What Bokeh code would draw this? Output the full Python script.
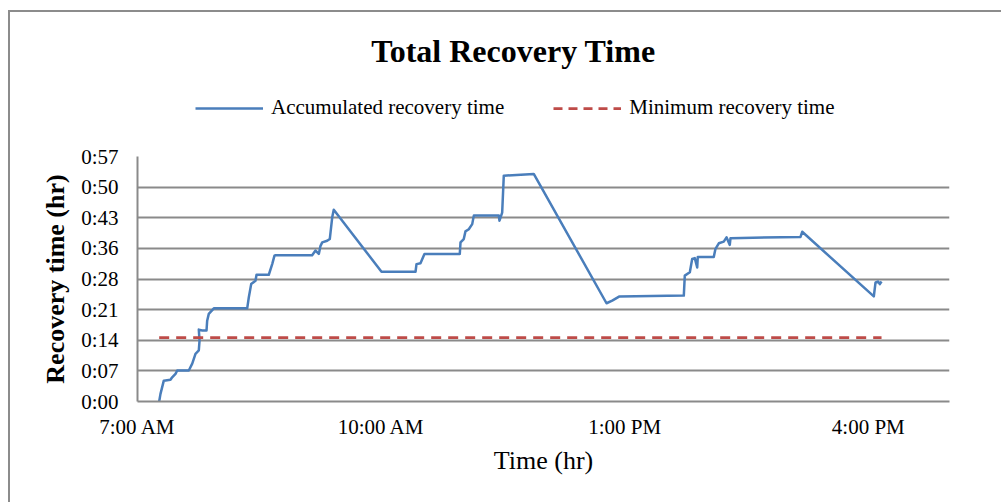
from bokeh.plotting import figure
from bokeh.models import Range1d, FixedTicker, Legend, LegendItem, Spacer, Label
from bokeh.layouts import row, column
from bokeh.embed import file_html
from bokeh.resources import INLINE

# ---- data (time in hours of day, recovery time in minutes) ----
time_hr = [7.267, 7.283, 7.324, 7.406, 7.427, 7.468, 7.489, 7.632, 7.674, 7.714,
           7.755, 7.764, 7.755, 7.797, 7.850, 7.858, 7.878, 7.940, 8.351, 8.371,
           8.400, 8.453, 8.466, 8.617, 8.659, 8.687, 8.700, 9.151, 9.192, 9.233,
           9.254, 9.275, 9.336, 9.368, 9.398, 9.417, 10.005, 10.424, 10.436, 10.485,
           10.534, 10.969, 10.978, 11.018, 11.039, 11.080, 11.122, 11.142, 11.450, 11.458,
           11.491, 11.511, 11.880, 12.776, 12.846, 12.936, 13.728, 13.740, 13.802, 13.831,
           13.863, 13.893, 13.900, 14.097, 14.118, 14.159, 14.220, 14.254, 14.294, 14.303,
           15.165, 15.186, 16.068, 16.089, 16.122, 16.142, 16.163]
recovery_min = [0.0, 1.8, 4.9, 5.1, 5.7, 6.5, 7.3, 7.3, 8.9, 11.2,
                12.0, 14.3, 16.9, 16.7, 16.7, 19.0, 20.6, 21.9, 21.9, 24.5,
                27.6, 28.4, 29.8, 29.8, 32.3, 34.3, 34.4, 34.4, 35.5, 34.7,
                36.6, 37.4, 37.8, 38.2, 43.3, 45.1, 30.5, 30.5, 32.3, 32.5,
                34.7, 34.7, 37.4, 38.2, 40.0, 40.5, 41.7, 43.7, 43.7, 42.5,
                44.4, 53.1, 53.5, 23.1, 23.7, 24.7, 24.9, 29.6, 30.4, 33.5,
                33.7, 31.5, 34.0, 34.0, 35.9, 37.2, 37.6, 38.6, 36.8, 38.4,
                38.7, 39.9, 24.7, 28.0, 28.2, 27.6, 28.2]
min_time_hr = [7.267, 16.163]
min_recovery_min = [15.0, 15.0]

x_ticks = [7, 10, 13, 16]
x_tick_labels = ["7:00 AM", "10:00 AM", "1:00 PM", "4:00 PM"]
y_ticks = [0, 7.2, 14.4, 21.6, 28.8, 36.0, 43.2, 50.4, 57.6]
y_tick_labels = ["0:00", "0:07", "0:14", "0:21", "0:28", "0:36", "0:43", "0:50", "0:57"]

title_text = "Total Recovery Time"
series_names = ["Accumulated recovery time", "Minimum recovery time"]
x_title = "Time (hr)"
y_title = "Recovery time (hr)"

FONT = "Liberation Serif"
GRID = "#8a8a8a"
FRAME = "#8c8c8c"
BLUE = "#4a7ebb"
RED = "#be4b48"
W = 980          # chart width
HH = 120         # header (title + legend) height
HP = 370         # plot height
ML, MR = 127, 41 # left / right borders of the plot area

# ---------------- header: title + legend ----------------
# header frame is aligned with the plot frame; its x range is in page pixels
head = figure(width=W, height=HH, x_range=Range1d(ML + 10, W - MR + 10),
              y_range=Range1d(HH + 12, 12),
              output_backend="svg", toolbar_location=None,
              x_axis_location=None, y_axis_location=None, min_border=0,
              min_border_left=ML, min_border_right=MR)
head.outline_line_color = None
head.xgrid.grid_line_color = None
head.ygrid.grid_line_color = None
head.background_fill_color = "white"
head.border_fill_color = "white"

# legend proxies (same data, outside the header's visible range)
h_acc = head.line(time_hr, recovery_min, line_color=BLUE, line_width=2.5)
h_min = head.line(min_time_hr, min_recovery_min, line_color=RED, line_width=2.75,
                  line_dash="9 6")

head.add_layout(Label(x=513, y=50, text=title_text, text_font=FONT,
                      text_font_size="32px", text_font_style="bold",
                      text_color="black", text_align="center",
                      text_baseline="middle"))

legend = Legend(items=[LegendItem(label=series_names[0], renderers=[h_acc]),
                       LegendItem(label=series_names[1], renderers=[h_min])],
                location=(58, 12), orientation="horizontal",
                glyph_width=68, glyph_height=20, label_standoff=8, spacing=49,
                padding=0, margin=0, border_line_color=None,
                background_fill_alpha=0,
                label_text_font=FONT, label_text_font_size="21px",
                label_text_color="black", label_height=21)
head.add_layout(legend, "center")

# ---------------- main plot ----------------
p = figure(width=W, height=HP,
           x_range=Range1d(7, 17), y_range=Range1d(0, 57.6),
           output_backend="svg", toolbar_location=None,
           min_border_left=ML, min_border_right=MR,
           min_border_top=24, min_border_bottom=HP - 269)
p.outline_line_color = None
p.background_fill_color = "white"
p.border_fill_color = "white"

p.line(time_hr, recovery_min, line_color=BLUE, line_width=2.5, line_join="round")
p.line(min_time_hr, min_recovery_min, line_color=RED, line_width=2.75,
       line_dash="10 7")

p.xaxis.ticker = FixedTicker(ticks=x_ticks)
p.xaxis.major_label_overrides = dict(zip(x_ticks, x_tick_labels))
p.yaxis.ticker = FixedTicker(ticks=y_ticks)
p.yaxis.major_label_overrides = dict(zip(y_ticks, y_tick_labels))
for ax in (p.xaxis, p.yaxis):
    ax.axis_line_color = GRID
    ax.axis_line_width = 2
    ax.major_tick_line_color = None
    ax.minor_tick_line_color = None
    ax.major_tick_out = 0
    ax.major_tick_in = 0
    ax.major_label_text_font = FONT
    ax.major_label_text_font_size = "21px"
    ax.major_label_text_color = "black"
    ax.axis_label_text_font = FONT
    ax.axis_label_text_color = "black"
p.xaxis.major_label_standoff = 13
p.yaxis.major_label_standoff = 19
p.xaxis.axis_label = x_title
p.xaxis.axis_label_text_font_size = "26px"
p.xaxis.axis_label_text_font_style = "normal"
p.xaxis.axis_label_standoff = 4
p.yaxis.axis_label = y_title
p.yaxis.axis_label_text_font_size = "26px"
p.yaxis.axis_label_text_font_style = "bold"
p.yaxis.axis_label_standoff = 8

p.xgrid.grid_line_color = None
p.ygrid.grid_line_color = GRID
p.ygrid.grid_line_width = 2

# ---------------- chart box (left and top edges) ----------------
layout = column(
    Spacer(width=W + 10, height=10),
    row(Spacer(width=8, height=2), Spacer(width=993, height=2, background=FRAME)),
    row(Spacer(width=8, height=HH + HP),
        Spacer(width=2, height=HH + HP, background=FRAME),
        column(head, p)),
)

open("out.html", "w").write(file_html(layout, INLINE))
